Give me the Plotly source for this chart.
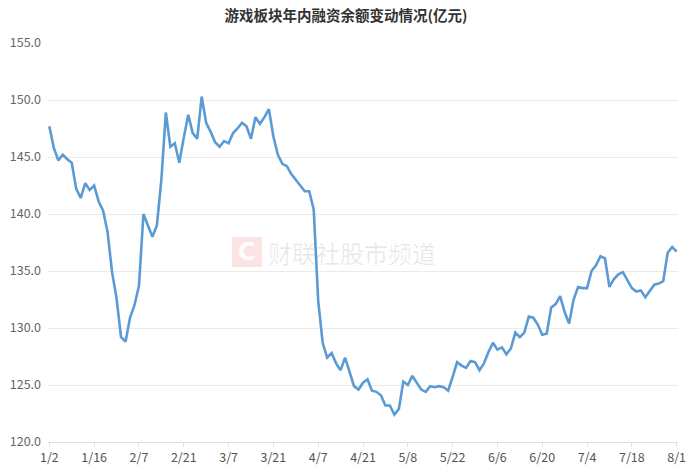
import pandas as pd
import plotly.graph_objects as go

# Trading calendar (2025, Shanghai/Shenzhen exchanges)
start_date = "2025-01-02"
end_date = "2025-08-01"
holidays = ["2025-01-01", "2025-01-28", "2025-01-29", "2025-01-30", "2025-01-31",
            "2025-02-03", "2025-02-04", "2025-04-04", "2025-05-01", "2025-05-02",
            "2025-05-05", "2025-06-02"]
cbd = pd.offsets.CustomBusinessDay(holidays=holidays)
dates = [f"{d.month}/{d.day}" for d in pd.date_range(start_date, end_date, freq=cbd)]

tick_labels = ["1/2", "1/16", "2/7", "2/21", "3/7", "3/21", "4/7", "4/21",
               "5/8", "5/22", "6/6", "6/20", "7/4", "7/18", "8/1"]

margin_balance = [
    147.7, 145.8, 144.7, 145.2, 144.8, 144.5, 142.2, 141.4, 142.7, 142.1,
    142.5, 141.1, 140.3, 138.4, 134.9, 132.6, 129.2, 128.8, 130.9, 132.0,
    133.7, 140.0, 139.0, 138.0, 139.0, 143.0, 148.9, 145.9, 146.2, 144.5,
    146.7, 148.7, 147.1, 146.6, 150.3, 148.0, 147.2, 146.3, 145.9, 146.4,
    146.2, 147.1, 147.5, 148.0, 147.7, 146.6, 148.5, 147.9, 148.5, 149.2,
    146.8, 145.2, 144.4, 144.2, 143.5, 143.0, 142.5, 142.0, 142.0, 140.4,
    132.4, 128.7, 127.4, 127.8, 126.9, 126.3, 127.4, 126.1, 124.9, 124.6,
    125.2, 125.5, 124.5, 124.4, 124.1, 123.2, 123.2, 122.4, 122.9, 125.3,
    125.0, 125.8, 125.2, 124.6, 124.4, 124.9, 124.8, 124.9, 124.8, 124.5,
    125.7, 127.0, 126.7, 126.5, 127.1, 127.0, 126.3, 126.9, 127.9, 128.7,
    128.1, 128.3, 127.7, 128.2, 129.6, 129.2, 129.6, 131.0, 130.9, 130.3,
    129.4, 129.5, 131.8, 132.1, 132.8, 131.4, 130.4, 132.5, 133.6, 133.5,
    133.5, 135.0, 135.5, 136.3, 136.1, 133.6, 134.3, 134.7, 134.9, 134.2,
    133.5, 133.2, 133.3, 132.7, 133.2, 133.8, 133.9, 134.1, 136.6, 137.1,
    136.7,
]

title_text = "游戏板块年内融资余额变动情况(亿元)"
watermark_text = "财联社股市频道"

font_family = "Noto Sans CJK SC, Noto Sans, sans-serif"

fig = go.Figure()
fig.add_trace(go.Scatter(
    x=dates, y=margin_balance, mode="lines",
    line=dict(color="#5b9bd5", width=2.6),
    hoverinfo="x+y", showlegend=False,
))

fig.update_layout(
    width=692, height=476,
    paper_bgcolor="white", plot_bgcolor="white",
    margin=dict(l=48, r=14, t=43, b=34),
    font=dict(family=font_family, color="#555555", size=12),
    title=dict(text=title_text, x=0.5, xanchor="center", y=0.966, yanchor="middle",
               automargin=False,
               font=dict(size=14.5, color="#333333", family=font_family, weight="bold")),
    xaxis=dict(
        type="category", categoryorder="array", categoryarray=dates,
        tickmode="array", tickvals=tick_labels, ticktext=tick_labels,
        range=[-0.3, len(dates) - 0.7],
        showgrid=False, zeroline=False, automargin=False,
        showline=True, linecolor="#e0e0e0", linewidth=1,
        ticks="outside", ticklen=4, tickcolor="#e0e0e0",
        tickfont=dict(size=12.5, color="#555555"),
    ),
    yaxis=dict(
        range=[120, 155], dtick=5, tick0=120, tickformat=".1f",
        showgrid=True, gridcolor="#ebebeb", gridwidth=1,
        zeroline=False, showline=False, ticks="", automargin=False,
        tickfont=dict(size=12.5, color="#666666"),
        ticklabelstandoff=6,
    ),
    shapes=[dict(
        type="rect", xref="paper", yref="paper",
        x0=(232 - 48) / 630, x1=(262 - 48) / 630,
        y0=(442 - 267) / 399, y1=(442 - 237) / 399,
        fillcolor="rgba(240,90,90,0.16)", line=dict(width=0), layer="below",
    )],
    annotations=[
        dict(text="<b>C</b>", xref="paper", yref="paper",
             x=(247 - 48) / 630, y=(442 - 252) / 399, showarrow=False,
             font=dict(size=24, color="rgba(255,255,255,0.95)", family="DejaVu Sans"),
             xanchor="center", yanchor="middle"),
        dict(text=watermark_text, xref="paper", yref="paper",
             x=(266 - 48) / 630, y=(442 - 252) / 399, showarrow=False,
             font=dict(size=24, color="rgba(0,0,0,0.09)", family=font_family),
             xanchor="left", yanchor="middle"),
    ],
)

fig.write_html("out.html", config={"displayModeBar": False},
               post_script="document.body.style.margin='0';")
